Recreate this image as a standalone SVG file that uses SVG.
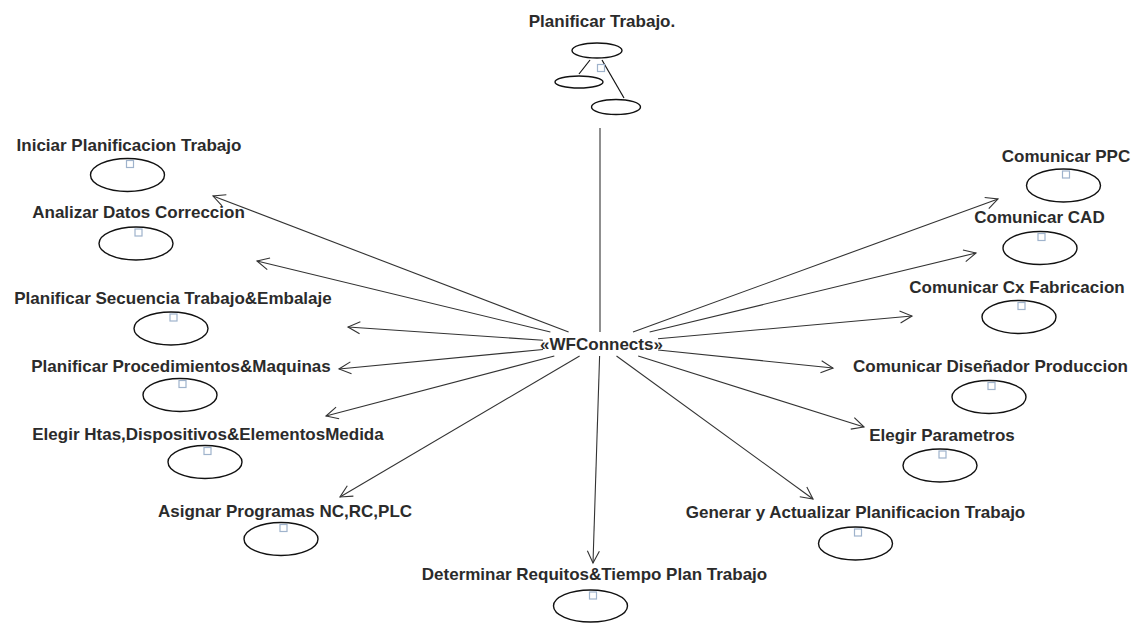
<svg xmlns="http://www.w3.org/2000/svg" width="1139" height="623" viewBox="0 0 1139 623">
  <style>
    .lbl { font-family: "Liberation Sans", Arial, sans-serif; font-size: 17px; font-weight: bold; fill: #2b2b2b; text-anchor: middle; }
    .uc { fill: #ffffff; stroke: #111111; stroke-width: 1.4; }
    .mark { fill: #ffffff; stroke: #9fb3cc; stroke-width: 1.2; }
    .edge { stroke: #333333; stroke-width: 1.1; fill: none; }
    .arr { marker-end: url(#open); }
  </style>
  <defs>
    <marker id="open" markerUnits="userSpaceOnUse" markerWidth="14" markerHeight="14" refX="12" refY="6" orient="auto" overflow="visible">
      <path d="M0,0 L12,6 L0,12" fill="none" stroke="#333333" stroke-width="1.1"/>
    </marker>
  </defs>
  <rect x="0" y="0" width="1139" height="623" fill="#ffffff"/>

  <!-- parent activity with its composition icon -->
  <g id="planificar-trabajo">
    <text class="lbl" x="602" y="27">Planificar Trabajo.</text>
    <line x1="590" y1="60" x2="579" y2="74" stroke="#111" stroke-width="1.2"/>
    <line x1="602" y1="60" x2="624" y2="98" stroke="#111" stroke-width="1.2"/>
    <ellipse class="uc" cx="597" cy="50.5" rx="25" ry="7.5"/>
    <ellipse class="uc" cx="579" cy="82" rx="24" ry="6"/>
    <ellipse class="uc" cx="616" cy="107" rx="24.5" ry="7.5"/>
    <rect class="mark" x="597.5" y="64.5" width="7" height="7"/>
  </g>

  <!-- connectors -->
  <g id="connectors">
    <line class="edge" x1="600" y1="128" x2="600" y2="332"/>
    <line class="edge arr" x1="568.6" y1="332" x2="213" y2="196"/>
    <line class="edge arr" x1="550.4" y1="332" x2="257" y2="261"/>
    <line class="edge arr" x1="543" y1="340.2" x2="348" y2="327"/>
    <line class="edge arr" x1="543" y1="349.5" x2="339" y2="369"/>
    <line class="edge arr" x1="554.3" y1="356" x2="326" y2="416"/>
    <line class="edge arr" x1="579.6" y1="356" x2="340" y2="497"/>
    <line class="edge arr" x1="599.6" y1="356" x2="593" y2="563"/>
    <line class="edge arr" x1="633" y1="332" x2="998" y2="199"/>
    <line class="edge arr" x1="649.6" y1="332" x2="976" y2="253"/>
    <line class="edge arr" x1="658" y1="338.8" x2="912" y2="316"/>
    <line class="edge arr" x1="658" y1="350" x2="833" y2="368"/>
    <line class="edge arr" x1="638.2" y1="356" x2="864" y2="427"/>
    <line class="edge arr" x1="616.5" y1="356" x2="813" y2="499"/>
    <text class="lbl" x="601.5" y="350">«WFConnects»</text>
  </g>

  <g id="iniciar-planificacion-trabajo">
    <text class="lbl" x="129" y="151">Iniciar Planificacion Trabajo</text>
    <ellipse class="uc" cx="127.5" cy="175" rx="37" ry="16.5"/>
    <rect class="mark" x="126.5" y="160.5" width="7" height="7"/>
  </g>
  <g id="analizar-datos-correccion">
    <text class="lbl" x="138.5" y="218">Analizar Datos Correccion</text>
    <ellipse class="uc" cx="136" cy="243.5" rx="37" ry="16.5"/>
    <rect class="mark" x="135" y="229" width="7" height="7"/>
  </g>
  <g id="planificar-secuencia">
    <text class="lbl" x="173" y="304">Planificar Secuencia Trabajo&amp;Embalaje</text>
    <ellipse class="uc" cx="171" cy="328.5" rx="37" ry="16.5"/>
    <rect class="mark" x="170" y="314" width="7" height="7"/>
  </g>
  <g id="planificar-procedimientos">
    <text class="lbl" x="181" y="372">Planificar Procedimientos&amp;Maquinas</text>
    <ellipse class="uc" cx="180" cy="395" rx="37" ry="16.5"/>
    <rect class="mark" x="179" y="380.5" width="7" height="7"/>
  </g>
  <g id="elegir-htas">
    <text class="lbl" x="208" y="440">Elegir Htas,Dispositivos&amp;ElementosMedida</text>
    <ellipse class="uc" cx="205" cy="462" rx="37" ry="16.5"/>
    <rect class="mark" x="204" y="447.5" width="7" height="7"/>
  </g>
  <g id="asignar-programas">
    <text class="lbl" x="285" y="517">Asignar Programas NC,RC,PLC</text>
    <ellipse class="uc" cx="281" cy="539" rx="37" ry="16.5"/>
    <rect class="mark" x="280" y="524.5" width="7" height="7"/>
  </g>
  <g id="determinar-requitos">
    <text class="lbl" x="594.5" y="580">Determinar Requitos&amp;Tiempo Plan Trabajo</text>
    <ellipse class="uc" cx="590.5" cy="606" rx="37" ry="16"/>
    <rect class="mark" x="589.5" y="592" width="7" height="7"/>
  </g>
  <g id="comunicar-ppc">
    <text class="lbl" x="1066" y="162">Comunicar PPC</text>
    <ellipse class="uc" cx="1063.5" cy="185.5" rx="37" ry="16.5"/>
    <rect class="mark" x="1062.5" y="171" width="7" height="7"/>
  </g>
  <g id="comunicar-cad">
    <text class="lbl" x="1039.5" y="223">Comunicar CAD</text>
    <ellipse class="uc" cx="1040" cy="248" rx="37" ry="16.5"/>
    <rect class="mark" x="1038" y="233.5" width="7" height="7"/>
  </g>
  <g id="comunicar-cx-fabricacion">
    <text class="lbl" x="1017" y="293">Comunicar Cx Fabricacion</text>
    <ellipse class="uc" cx="1019" cy="317" rx="37" ry="16.5"/>
    <rect class="mark" x="1018" y="302.5" width="7" height="7"/>
  </g>
  <g id="comunicar-disenador">
    <text class="lbl" x="990.5" y="372">Comunicar Diseñador Produccion</text>
    <ellipse class="uc" cx="989" cy="397" rx="37" ry="16.5"/>
    <rect class="mark" x="988" y="382.5" width="7" height="7"/>
  </g>
  <g id="elegir-parametros">
    <text class="lbl" x="942" y="441">Elegir Parametros</text>
    <ellipse class="uc" cx="940" cy="465.5" rx="37" ry="16.5"/>
    <rect class="mark" x="939" y="451" width="7" height="7"/>
  </g>
  <g id="generar-actualizar">
    <text class="lbl" x="855.5" y="518">Generar y Actualizar Planificacion Trabajo</text>
    <ellipse class="uc" cx="855.5" cy="543.5" rx="37" ry="16.5"/>
    <rect class="mark" x="854.5" y="529" width="7" height="7"/>
  </g>
</svg>
